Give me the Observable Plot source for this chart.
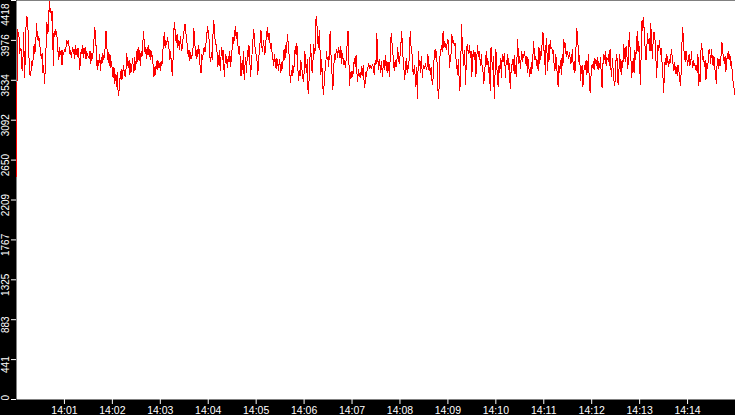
<!DOCTYPE html>
<html>
<head>
<meta charset="utf-8">
<script src="https://cdn.jsdelivr.net/npm/d3@7"></script>
<script src="https://cdn.jsdelivr.net/npm/@observablehq/plot@0.6"></script>
<style>
html,body{margin:0;padding:0;background:#000;overflow:hidden;}
#chart svg{display:block;}
</style>
</head>
<body>
<div id="chart"></div>
<script>
// Sampling: one value per second from 14:00:00
const startTimeLabel = "14:00:00";
const endTimeLabel = "14:15:00";
const sampleSeconds = 1;

// Series values
const values = [
2470,4100,4060,4040,3830,3890,3870,3640,3750,4060,
3560,3780,4150,4240,4190,3950,3700,3580,3620,3740,
3700,3780,3930,3830,3900,4160,4050,3970,4020,3940,
3850,3780,3830,3620,3700,3500,3650,3900,4180,4050,
4100,4410,4280,4330,4200,4300,3700,4080,4020,4100,
4050,4000,3850,3760,3900,3820,3870,3700,3860,3820,
3880,3850,3900,3980,3940,3970,3900,3820,3870,3790,
3900,3830,3880,3780,3920,3850,3800,3890,3830,3650,
3740,3880,3830,3920,3790,3860,3900,3770,3850,3810,
3800,3770,3860,3720,3830,3780,3850,3990,4120,4000,
3850,3650,3760,3700,3820,3640,3790,3720,3830,3760,
3800,3900,4080,3940,3760,3840,3700,3820,3680,3740,
3640,3560,3680,3500,3600,3470,3620,3430,3360,3520,
3580,3650,3540,3620,3700,3600,3580,3650,3830,3720,
3680,3760,3600,3720,3630,3780,3700,3620,3790,3650,
3760,3880,3740,3900,3820,3700,3860,3790,3920,4070,
3950,3830,3900,3780,3860,3920,3800,3880,3760,3850,
3800,3700,3570,3680,3600,3740,3650,3760,3680,3720,
3640,3750,3700,3820,3960,4060,3900,3980,3930,4010,
3940,3880,3760,3850,3700,3590,3780,4100,4170,4000,
3950,4050,3900,3980,3870,4020,3930,3860,3970,4030,
4100,4160,4060,3990,3900,3800,3870,3750,3840,3780,
3820,3900,4110,3970,3850,3780,3880,3800,3920,3840,
3650,3620,3820,3760,3880,3900,3850,3930,4000,4130,
4070,3990,3800,3740,3840,3760,4050,4200,4020,3960,
3920,3850,3690,3760,3870,3640,3800,3900,3760,3860,
3580,3720,3820,3760,3680,3800,3740,3850,3690,3780,
3900,4010,3940,4050,4130,4000,4070,3950,3830,3910,
3780,3580,3720,3650,3850,3540,3700,3790,3620,3860,
3800,3920,3760,3580,3700,3850,3990,4100,3940,3870,
3820,3760,3600,3730,3880,3960,4090,3920,3850,3970,
3900,3820,3950,4030,4120,3990,4060,3970,3890,3940,
3830,3770,3700,3820,3740,3660,3780,3720,3640,3760,
3700,3620,3730,3660,3810,3880,3760,3920,3840,4040,
3960,3850,3620,3510,3640,3580,3700,3620,3790,3910,
3820,3940,3700,3530,3640,3580,3750,3680,3600,3520,
3620,3850,3700,3620,3760,3390,3500,3690,3930,3780,
3620,3720,3930,3830,3880,4240,4170,3960,3900,4090,
3850,3600,3760,3550,3380,3480,3620,3700,3850,3760,
3800,3690,4020,4080,3700,3600,3430,3640,3820,3760,
3840,3880,3790,3900,3850,3780,3910,3720,3830,3760,
3700,3760,3680,3820,3950,4080,3760,3480,3620,3560,
3640,3580,3700,3780,3690,3810,3630,3520,3650,3580,
3620,3560,3690,3590,3700,3540,3450,3620,3580,3660,
3680,3720,3670,3700,3660,3690,3710,3640,3600,3760,
3700,4050,3820,3650,3770,3700,3620,3740,3580,3700,
3760,3650,3810,3700,3620,3740,3660,3580,3880,4050,
3950,3860,3700,3640,3760,3680,3720,3900,3810,3720,
3800,3900,4070,3940,3760,3650,3540,3700,3780,3620,
3700,3660,3920,4080,3880,3850,3640,3600,3700,3580,
3460,3680,3330,3850,3700,3760,3620,3800,3560,3680,
3700,3660,3720,3650,3690,3820,3650,3710,3600,3680,
3530,3490,3660,3820,3880,3780,3850,3560,3330,3450,
3800,3860,3920,3850,4080,3900,3960,3920,3880,3940,
3990,3900,3680,3760,3830,4040,3950,3970,3920,3950,
3780,3700,3600,3760,3560,3420,3650,4150,3940,3820,
3700,3860,3490,3720,3930,3860,3830,3920,3790,3860,
3580,3800,3860,3760,3850,3580,3740,3920,3800,3860,
3780,3700,3820,3660,3620,3500,3640,3740,3850,3700,
3780,3620,3680,3420,3900,3760,3650,3800,3330,3600,
3880,3720,3560,3460,3700,3620,3780,3560,3820,3740,
3800,3830,3560,3760,3700,3820,3650,3720,3440,3620,
3700,3760,3640,3810,3600,3700,3580,3990,3860,3720,
3800,3660,3850,3740,3830,3790,3850,3760,3700,3800,
3620,3760,3580,3680,3600,3730,3660,3960,3870,3760,
3800,3700,3750,3640,3900,3720,3850,3810,3950,4070,
3880,3830,3600,4000,3850,3640,3920,3760,3980,3880,
3900,3830,3860,3700,3640,3820,3720,3580,3460,3700,
3620,3750,3600,3820,3700,3990,3900,3940,3800,3860,
3830,3780,3840,3790,3720,3800,3870,3650,3740,3620,
3780,4110,4060,3900,3740,3810,3530,3640,3700,3460,
3610,3700,3650,3760,3600,3700,3820,3500,3400,3560,
3700,3680,3740,3650,3780,3720,3700,3790,3650,3740,
3680,3790,3600,3450,3700,3820,3760,3850,3700,3790,
3760,3820,3700,3880,3660,3580,3780,3620,3520,3470,
3700,3820,3760,3480,3620,3820,3700,3600,3760,3680,
3930,3850,3740,3910,3820,3660,3760,4060,3900,3800,
3560,3680,3780,3620,3870,3760,3900,4080,3850,3970,
3700,3490,3850,4200,4080,4230,4010,3880,3760,3900,
4050,3940,4000,3860,4160,3930,3780,3990,4070,4000,
3930,3560,3700,3920,3860,3970,3820,3890,3740,3620,
3400,3600,3780,3700,3820,3760,3690,3770,3720,3800,
3880,3760,3700,3640,3730,3610,3680,3590,3700,3650,
3560,3480,3620,3950,4120,3900,3820,3740,3860,3780,
3700,3760,3820,3700,3740,3850,3680,3760,3690,3720,
3650,3700,3620,3820,3480,3600,3520,3940,3900,3760,
3800,3690,3760,3540,3720,3660,3780,3880,3830,3720,
3880,3760,3700,3800,3680,3600,3500,3720,3780,3660,
3760,3700,3820,3960,3850,3790,3720,3800,3630,3760,
3800,3850,3760,3820,3700,3740,3620,3520,3460,3380
];

// Axis ticks and labels
const yMax = 4418;
const yTicks = [0, 441.8, 883.6, 1325.4, 1767.2, 2209, 2650.8, 3092.6, 3534.4, 3976.2, 4418];
const xTickLabels = ["14:01","14:02","14:03","14:04","14:05","14:06","14:07","14:08","14:09","14:10","14:11","14:12","14:13","14:14"];

const parseHMS = d3.utcParse("%H:%M:%S");
const parseHM = d3.utcParse("%H:%M");
const t0 = parseHMS(startTimeLabel);
const t1 = parseHMS(endTimeLabel);
const data = values.map((v, i) => ({t: new Date(t0.getTime() + i * sampleSeconds * 1000), v}));
const xTicks = xTickLabels.map(parseHM);
const yLabel = d => String(Math.floor(d));

const font = "'Liberation Sans', Arial, sans-serif";

const chart = Plot.plot({
  width: 735,
  height: 415,
  marginLeft: 16,
  marginRight: 0,
  marginTop: 0,
  marginBottom: 16,
  style: {background: "#000", fontFamily: font},
  x: {type: "utc", domain: [t0, t1]},
  y: {domain: [0, yMax]},
  marks: [
    Plot.frame({fill: "white", stroke: null}),
    Plot.axisX(xTicks, {anchor: "bottom", tickSize: 5, tickPadding: 2, stroke: "white", fill: "white",
      fontSize: 10.5, tickFormat: d3.utcFormat("%H:%M"), label: null}),
    Plot.axisY(yTicks, {anchor: "left", tickSize: 5, stroke: "white", fill: "none", label: null}),
    Plot.text(yTicks.slice(1, -1), {y: d => d, text: yLabel, frameAnchor: "left", dx: -8, dy: 5,
      rotate: -90, textAnchor: "middle", lineAnchor: "bottom", fill: "white", fontSize: 10}),
    Plot.text(yTicks.slice(0, 1), {y: d => d, text: yLabel, frameAnchor: "left", dx: -8, dy: 1,
      rotate: -90, textAnchor: "start", lineAnchor: "bottom", fill: "white", fontSize: 10}),
    Plot.text(yTicks.slice(-1), {y: d => d, text: yLabel, frameAnchor: "left", dx: -8, dy: 3,
      rotate: -90, textAnchor: "end", lineAnchor: "bottom", fill: "white", fontSize: 10}),
    Plot.line(data, {x: "t", y: "v", stroke: "#ff0000", strokeWidth: 1, shapeRendering: "crispEdges"})
  ]
});
document.getElementById("chart").append(chart);
</script>
</body>
</html>
